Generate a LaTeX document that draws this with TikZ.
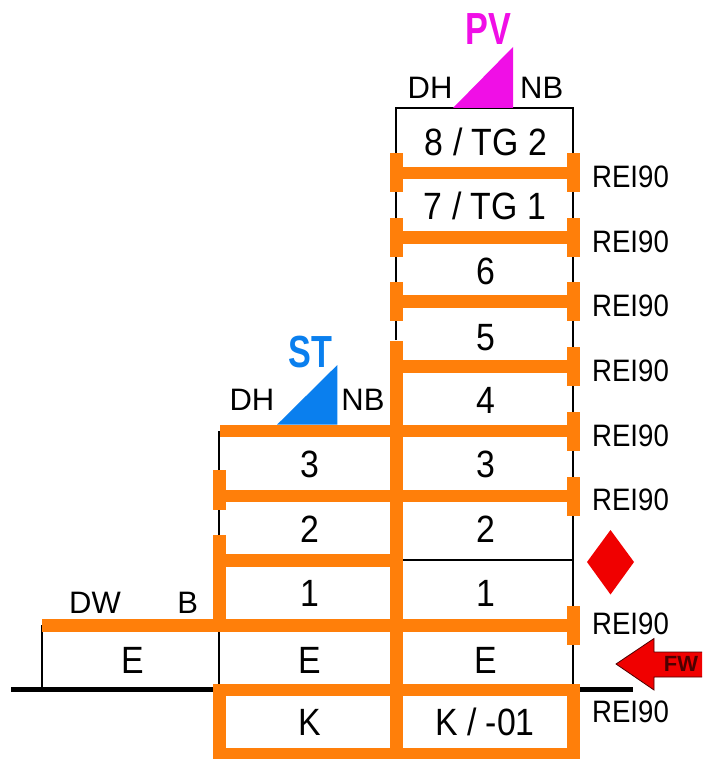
\documentclass[tikz,border=0pt]{standalone}
\usepackage{fontspec}
\setmainfont{Liberation Sans}
\newfontfamily\narf[FakeStretch=0.89]{Liberation Sans}
\newfontfamily\narbf[FakeStretch=0.76]{Liberation Sans Bold}
\definecolor{wallorange}{HTML}{FF7F0A}
\definecolor{pvmag}{HTML}{F00FE6}
\definecolor{stblue}{HTML}{0A7FEE}
\definecolor{redmark}{HTML}{F00000}
\tikzset{
  big/.style={font=\narf\fontsize{38}{38}\selectfont,text height=27.5pt,text depth=0pt,inner sep=0pt},
  small/.style={font=\narf\fontsize{31}{31}\selectfont,text height=22.5pt,text depth=0pt,inner sep=0pt},
  tag/.style={font=\fontsize{31}{31}\selectfont,text height=22.5pt,text depth=0pt,inner sep=0pt},
  brand/.style={font=\narbf\fontsize{45}{45}\selectfont,text height=32.5pt,text depth=0pt,inner sep=0pt},
  thinwall/.style={draw=black,line width=1.3pt},
  ground/.style={draw=black,line width=5.5pt},
  slab/.style={fill=wallorange,draw=none},
}
\begin{document}
\begin{tikzpicture}[x=1pt,y=-1pt]
\useasboundingbox (0,0) rectangle (702,759);
% thin walls
\draw[thinwall] (396,340) -- (396,108) -- (573,108) -- (573,684);
\draw[thinwall] (219,431) -- (219,535);
\draw[thinwall] (219,632) -- (219,684);
\draw[thinwall] (42,625) -- (42,689);
\draw[thinwall] (403,560) -- (573,560);
% ground
\draw[ground] (11,689.5) -- (213,689.5);
\draw[ground] (579,689.5) -- (633,689.5);
% right tower slabs with stubs
\foreach \y in {173,237.5,301.5}{
  \fill[slab] (396,\y-6.3) rectangle (573,\y+6.3);
  \fill[slab] (389.5,\y-19.5) rectangle (402.5,\y+19.5);
}
\foreach \y in {173,237.5,301.5,366.5,431,496,625.5}{
  \fill[slab] (566.5,\y-19.5) rectangle (579.5,\y+19.5);
}
\fill[slab] (396,360.2) rectangle (573,372.8);
% long slabs
\fill[slab] (219.5,424.7) rectangle (573,437.3);
\fill[slab] (219.5,489.7) rectangle (573,502.3);
\fill[slab] (219.5,554) rectangle (396,566.7);
\fill[slab] (42,619.2) rectangle (573,631.8);
\fill[slab] (213,683.7) rectangle (579.5,696.3);
\fill[slab] (213,748) rectangle (579.5,759);
% central wall
\fill[slab] (389.5,340.5) rectangle (402.5,759);
% left wall parts
\fill[slab] (213,470) rectangle (226,510);
\fill[slab] (213,535) rectangle (226,625);
\fill[slab] (213,683.7) rectangle (226,759);
\fill[slab] (566.5,683.7) rectangle (579.5,759);
% roof triangles
\fill[pvmag] (453,108) -- (513,108) -- (513,47) -- cycle;
\fill[stblue] (277,424.7) -- (337.3,424.7) -- (337.3,365) -- cycle;
% diamond
\fill[redmark] (610.5,530) -- (634,562) -- (610.5,594.5) -- (587,562) -- cycle;
% arrow
\filldraw[fill=redmark,draw=black!70!red,line width=.8pt] (702,652) -- (654,652) -- (654,638.5) -- (616,664) -- (654,690) -- (654,677) -- (702,677);
\node[font=\bfseries\fontsize{22}{22}\selectfont,text=black!70!red,inner sep=0pt] (fw) at (681,664) {FW};
% brand labels
\node[brand,text=pvmag] (pv) at (488.7,28) {PV};
\node[brand,text=stblue] (st) at (310.7,351) {ST};
% tags
\node[tag] (dh1) at (430,87) {DH};
\node[tag] (nb1) at (541.7,87) {NB};
\node[tag] (dh2) at (252,399) {DH};
\node[tag] (nb2) at (363,399) {NB};
\node[tag] (dw) at (95,602) {DW};
\node[tag] (bb) at (187.7,602) {B};
% ratings
\node[small] (r1) at (630.5,176.5) {REI90};
\node[small] (r2) at (630.5,241) {REI90};
\node[small] (r3) at (630.5,305) {REI90};
\node[small] (r4) at (630.5,370) {REI90};
\node[small] (r5) at (630.5,435) {REI90};
\node[small] (r6) at (630.5,499) {REI90};
\node[small] (r7) at (630.5,623) {REI90};
\node[small] (r8) at (630.5,711) {REI90};
% storey labels, right column
\node[big] (a8) at (486,142) {8 / TG 2};
\node[big] (a7) at (485,206) {7 / TG 1};
\node[big] (a6) at (486,271) {6};
\node[big] (a5) at (486,336.5) {5};
\node[big] (a4) at (486,400) {4};
\node[big] (a3) at (486,464) {3};
\node[big] (a2) at (486,529) {2};
\node[big] (a1) at (486,593) {1};
\node[big] (ae) at (486,659.5) {E};
\node[big] (ak) at (485,722) {K / -01};
% left column
\node[big] (b3) at (310,464) {3};
\node[big] (b2) at (310,529) {2};
\node[big] (b1) at (310,593) {1};
\node[big] (be) at (310,660) {E};
\node[big] (bk) at (310,722) {K};
\node[big] (ce) at (133,660) {E};
\end{tikzpicture}
\end{document}
